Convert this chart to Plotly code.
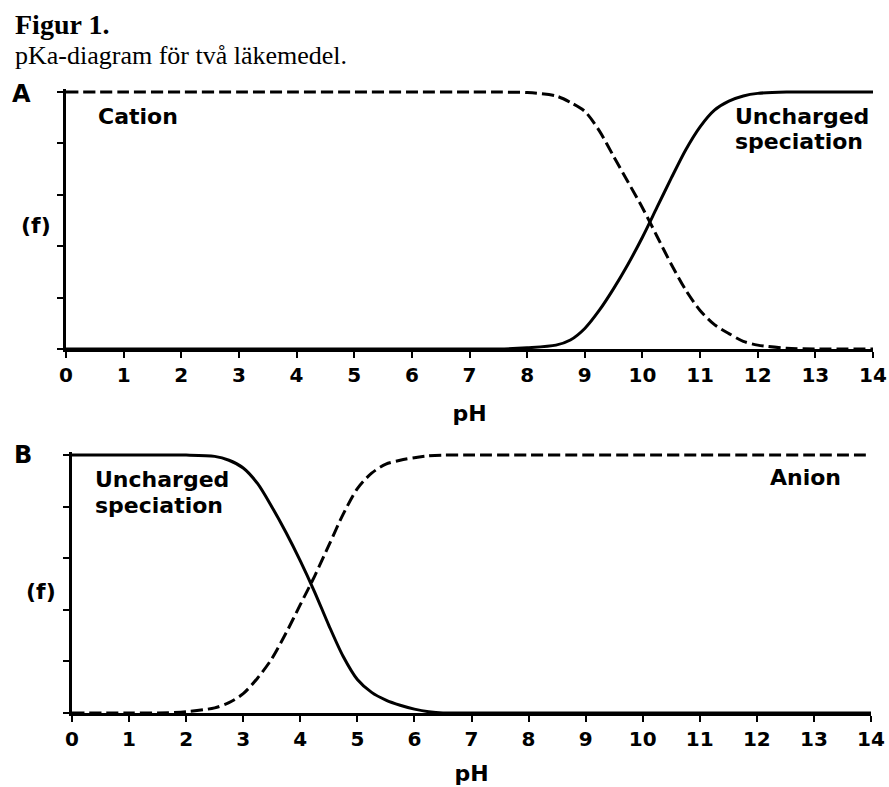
import plotly.graph_objects as go

W, H = 889, 787

# ---------------- data ----------------
ph_ticks = list(range(0, 15))
f_ticks = [0, 0.2, 0.4, 0.6, 0.8, 1.0]

# Panel A (base, pKa ~ 10.1)
ph_a = [0, 1, 2, 3, 4, 5, 6, 7, 7.5, 8.0, 8.5, 8.75, 9.0, 9.25, 9.5, 9.75, 10.0,
        10.25, 10.5, 10.75, 11.0, 11.25, 11.5, 11.75, 12.0, 12.5, 13.0, 14.0]
cation_a = [1, 1, 1, 1, 1, 1, 1, 1, 1, 0.998, 0.985, 0.96, 0.925, 0.85, 0.75, 0.65, 0.55,
            0.44, 0.33, 0.23, 0.15, 0.095, 0.06, 0.03, 0.015, 0.003, 0, 0]
uncharged_a = [0, 0, 0, 0, 0, 0, 0, 0, 0, 0.005, 0.015, 0.035, 0.08, 0.15, 0.235, 0.33, 0.435,
               0.55, 0.665, 0.775, 0.865, 0.93, 0.965, 0.985, 0.995, 1.0, 1.0, 1.0]

# Panel B (acid, pKa ~ 4.2)
ph_b = [0, 1, 1.5, 2.0, 2.5, 2.75, 3.0, 3.25, 3.5, 3.75, 4.0, 4.25, 4.5, 4.75, 5.0,
        5.25, 5.5, 5.75, 6.0, 6.25, 6.5, 7, 8, 9, 10, 11, 12, 13, 14]
uncharged_b = [1, 1, 1, 1.0, 0.995, 0.98, 0.95, 0.89, 0.80, 0.70, 0.59, 0.47, 0.34, 0.22, 0.13,
               0.08, 0.05, 0.03, 0.015, 0.005, 0, 0, 0, 0, 0, 0, 0, 0, 0]
anion_b = [0, 0, 0, 0.005, 0.02, 0.04, 0.075, 0.135, 0.21, 0.31, 0.42, 0.53, 0.65, 0.77, 0.87,
           0.93, 0.965, 0.98, 0.99, 0.997, 1.0, 1, 1, 1, 1, 1, 1, 1, 1]

# ---------------- styling helpers ----------------
SANS = "DejaVu Sans, Arial, sans-serif"
SERIF = "Liberation Serif, Times New Roman, serif"


def px(x):
    return x / W


def py(y):
    return 1 - y / H


dash = "12px,5px"
line_kw = dict(color="black", width=3)

fig = go.Figure()
fig.add_trace(go.Scatter(x=ph_a, y=cation_a, mode="lines", name="Cation",
                         line=dict(dash=dash, shape="spline", smoothing=0.8, **line_kw),
                         xaxis="x", yaxis="y", showlegend=False))
fig.add_trace(go.Scatter(x=ph_a, y=uncharged_a, mode="lines", name="Uncharged speciation",
                         line=dict(shape="spline", smoothing=0.8, **line_kw),
                         xaxis="x", yaxis="y", showlegend=False))
fig.add_trace(go.Scatter(x=ph_b, y=uncharged_b, mode="lines", name="Uncharged speciation",
                         line=dict(shape="spline", smoothing=0.8, **line_kw),
                         xaxis="x2", yaxis="y2", showlegend=False))
fig.add_trace(go.Scatter(x=ph_b, y=anion_b, mode="lines", name="Anion",
                         line=dict(dash=dash, shape="spline", smoothing=0.8, **line_kw),
                         xaxis="x2", yaxis="y2", showlegend=False))

tickfont = dict(family=SANS, size=20, color="black", weight="bold")
titlefont = dict(family=SANS, size=22, color="black", weight="bold")

xcommon = dict(range=[0, 14], tickvals=ph_ticks, ticktext=[str(v) for v in ph_ticks],
               showline=True, linecolor="black", linewidth=3, ticks="outside",
               ticklen=6, tickwidth=2, tickcolor="black", showgrid=False, zeroline=False,
               tickfont=tickfont, fixedrange=True, automargin=False)
ycommon = dict(range=[0, 1.012], tickvals=f_ticks, showticklabels=False,
               showline=True, linecolor="black", linewidth=3, ticks="outside",
               ticklen=6, tickwidth=2, tickcolor="black", showgrid=False, zeroline=False,
               fixedrange=True, automargin=False)

fig.update_layout(
    width=W, height=H, autosize=False,
    margin=dict(l=0, r=0, t=0, b=0, pad=0),
    paper_bgcolor="white", plot_bgcolor="white",
    xaxis=dict(domain=[px(66), px(873)], anchor="y",
               title=dict(text="pH", font=titlefont, standoff=20), **xcommon),
    yaxis=dict(domain=[py(349), py(89)], anchor="x", **ycommon),
    xaxis2=dict(domain=[px(72), px(871)], anchor="y2",
                title=dict(text="pH", font=titlefont, standoff=16), **xcommon),
    yaxis2=dict(domain=[py(713), py(452)], anchor="x2", **ycommon),
)

ann = []


def text(t, x, y, font, xanchor="left", yanchor="middle"):
    ann.append(dict(text=t, x=px(x), y=py(y), xref="paper", yref="paper",
                    xanchor=xanchor, yanchor=yanchor, showarrow=False, font=font))


labfont = dict(family=SANS, size=22, color="black", weight="bold")
# title / subtitle
text("Figur 1.", 13, 25, dict(family=SERIF, size=28, color="black", weight="bold"))
text("pKa-diagram för två läkemedel.", 13, 55, dict(family=SERIF, size=26, color="black"))
# panel letters
text("A", 21, 94, dict(family=SANS, size=24, color="black", weight="bold"), xanchor="center")
text("B", 23, 455, dict(family=SANS, size=24, color="black", weight="bold"), xanchor="center")
# (f) labels
text("(f)", 36, 225, labfont, xanchor="center")
text("(f)", 41, 591, labfont, xanchor="center")
# panel A curve labels
text("Cation", 96, 116, labfont)
text("Uncharged", 733, 116, labfont)
text("speciation", 733, 141, labfont)
# panel B curve labels
text("Uncharged", 93, 479, labfont)
text("speciation", 93, 505, labfont)
text("Anion", 768, 477, labfont)

fig.update_layout(annotations=ann)

fig.write_html(
    "out.html",
    config={"displayModeBar": False, "staticPlot": True},
    post_script="document.body.style.margin='0';document.body.style.overflow='hidden';",
)
